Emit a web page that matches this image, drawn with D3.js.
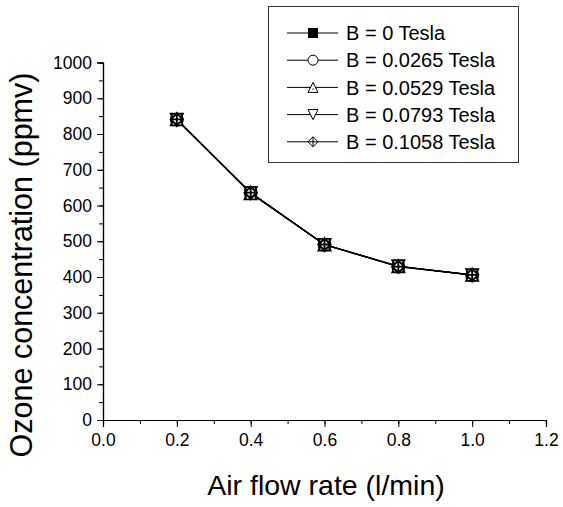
<!DOCTYPE html>
<html>
<head>
<meta charset="utf-8">
<script src="https://cdn.jsdelivr.net/npm/d3@7"></script>
<style>
  body { margin: 0; background: #fff; }
  svg { display: block; font-family: "Liberation Sans", Arial, sans-serif; }
</style>
</head>
<body>
<script>
// air flow rate (l/min)
const flowRates = [0.2, 0.4, 0.6, 0.8, 1.0];
const fieldLabels = ["B = 0 Tesla", "B = 0.0265 Tesla", "B = 0.0529 Tesla", "B = 0.0793 Tesla", "B = 0.1058 Tesla"];
const markerTypes = ["square", "circle", "triangleUp", "triangleDown", "diamondCross"];
// ozone concentration (ppmv), one array per field strength
const ozoneB0 = [841, 635, 491, 430, 406];
const ozoneB1 = [840, 636, 490, 429, 405];
const ozoneB2 = [841, 634, 491, 430, 406];
const ozoneB3 = [840, 635, 490, 430, 405];
const ozoneB4 = [841, 636, 491, 429, 406];
const seriesValues = [ozoneB0, ozoneB1, ozoneB2, ozoneB3, ozoneB4];
const xTicks = [0.0, 0.2, 0.4, 0.6, 0.8, 1.0, 1.2];
const yTicks = [0, 100, 200, 300, 400, 500, 600, 700, 800, 900, 1000];

const W = 563, H = 507;
const svg = d3.select("body").append("svg").attr("width", W).attr("height", H);

const x = d3.scaleLinear().domain([0, 1.2]).range([103, 546]);
const y = d3.scaleLinear().domain([0, 1000]).range([420, 62.5]);

// axes
const xAxis = svg.append("g").attr("transform", "translate(0,420)");
xAxis.call(d3.axisBottom(x).tickValues(d3.range(0, 1.21, 0.1)).tickSize(4).tickFormat(""));
xAxis.append("g").call(d3.axisBottom(x).tickValues(xTicks).tickSize(7).tickPadding(6).tickFormat(d3.format(".1f")));

const yAxis = svg.append("g").attr("transform", "translate(103,0)");
yAxis.call(d3.axisLeft(y).tickValues(d3.range(0, 1001, 50)).tickSize(4).tickFormat(""));
yAxis.append("g").call(d3.axisLeft(y).tickValues(yTicks).tickSize(6).tickPadding(5).tickFormat(d3.format("d")));

svg.selectAll(".domain").attr("stroke", "#000").attr("stroke-width", 1.2);
svg.selectAll(".tick line").attr("stroke", "#000");
svg.selectAll(".tick text").attr("font-size", 17.5).attr("font-family", "Liberation Sans, Arial").attr("fill", "#000");
xAxis.selectAll(".tick text").attr("dy", "0.75em");

// axis titles
svg.append("text").attr("x", 326).attr("y", 495).attr("text-anchor", "middle")
  .attr("font-size", 28.5).text("Air flow rate (l/min)");
svg.append("text").attr("transform", "translate(32,265) rotate(-90)").attr("text-anchor", "middle")
  .attr("font-size", 30.5).text("Ozone concentration (ppmv)");

function drawMarker(g, type, s, sw) {
  const h = s / 2;
  if (type === "square") {
    g.append("rect").attr("x", -h).attr("y", -h).attr("width", s).attr("height", s).attr("fill", "#000");
  } else if (type === "circle") {
    g.append("circle").attr("r", h).attr("fill", "#fff").attr("stroke", "#000").attr("stroke-width", sw);
  } else if (type === "triangleUp") {
    g.append("path").attr("d", `M0,${-h}L${h},${h}L${-h},${h}Z`).attr("fill", "#fff").attr("stroke", "#000").attr("stroke-width", sw);
    g.append("circle").attr("r", 0.7).attr("cy", h * 0.35).attr("fill", "#000");
  } else if (type === "triangleDown") {
    g.append("path").attr("d", `M${-h},${-h}L${h},${-h}L0,${h}Z`).attr("fill", "#fff").attr("stroke", "#000").attr("stroke-width", sw);
  } else {
    g.append("path").attr("d", `M0,${-h}L${h},0L0,${h}L${-h},0Z M0,${-h}V${h} M${-h},0H${h}`)
      .attr("fill", "#fff").attr("stroke", "#000").attr("stroke-width", sw);
  }
}

const line = d3.line().x((d, i) => x(flowRates[i])).y(d => y(d));
seriesValues.forEach((vals, k) => {
  svg.append("path").datum(vals).attr("d", line).attr("fill", "none").attr("stroke", "#000").attr("stroke-width", 1.2);
});
seriesValues.forEach((vals, k) => {
  vals.forEach((v, i) => {
    const g = svg.append("g").attr("transform", `translate(${x(flowRates[i])},${y(v)})`);
    drawMarker(g, markerTypes[k], 12, 1.9);
  });
});

// legend
const leg = svg.append("g");
leg.append("rect").attr("x", 268.5).attr("y", 6.5).attr("width", 250).attr("height", 156)
  .attr("fill", "#fff").attr("stroke", "#333").attr("stroke-width", 1);
fieldLabels.forEach((lab, k) => {
  const cy = 33 + k * 27.2;
  leg.append("line").attr("x1", 287).attr("x2", 338).attr("y1", cy).attr("y2", cy).attr("stroke", "#000");
  const g = leg.append("g").attr("transform", `translate(313,${cy})`);
  drawMarker(g, markerTypes[k], 10, 1);
  leg.append("text").attr("x", 346).attr("y", cy).attr("dy", "0.36em").attr("font-size", 20).text(lab);
});
</script>
</body>
</html>
